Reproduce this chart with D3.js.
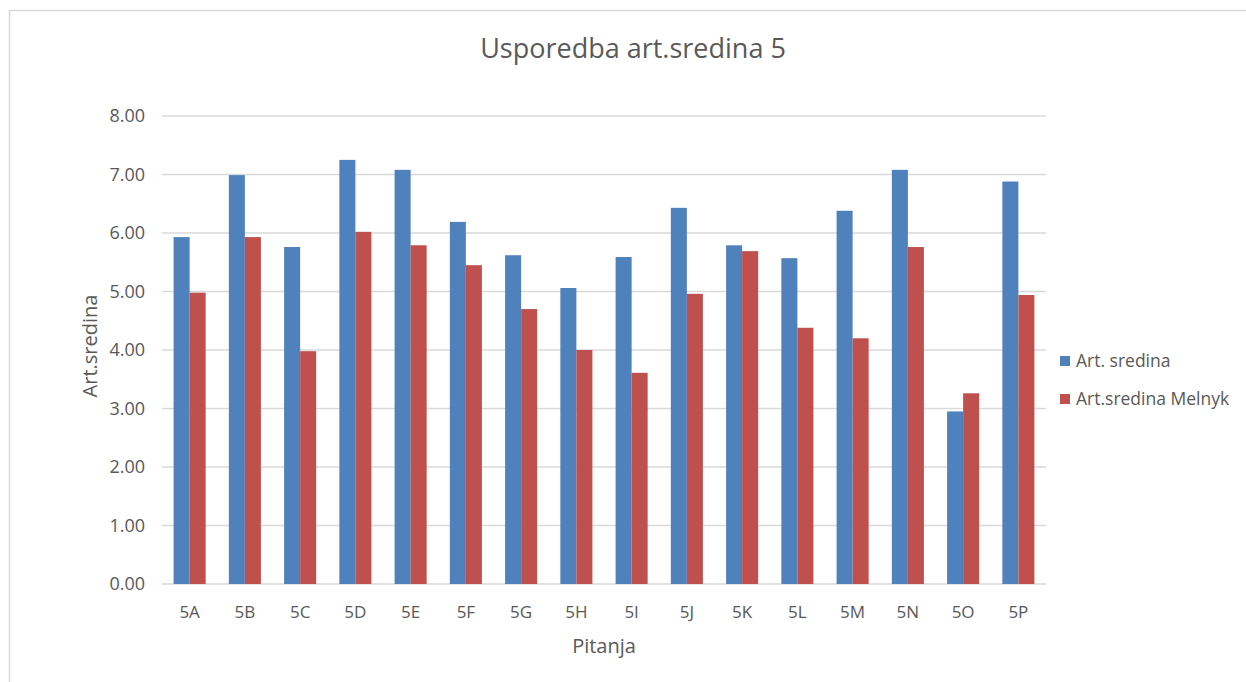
<!DOCTYPE html>
<html>
<head>
<meta charset="utf-8">
<script src="https://cdn.jsdelivr.net/npm/d3@7"></script>
<style>
    body { margin: 0; background: white; }
    svg { display: block; font-family: "Open Sans", sans-serif; }
</style>
</head>
<body>
<div id="viz"></div>
<script>

const categories = ["5A", "5B", "5C", "5D", "5E", "5F", "5G", "5H", "5I", "5J", "5K", "5L", "5M", "5N", "5O", "5P"]
const seriesNames = ["Art. sredina", "Art.sredina Melnyk"]
const artSredina = [5.93, 6.99, 5.76, 7.25, 7.08, 6.19, 5.62, 5.06, 5.59, 6.43, 5.79, 5.57, 6.38, 7.08, 2.95, 6.88]
const artSredinaMelnyk = [4.98, 5.93, 3.98, 6.02, 5.79, 5.45, 4.70, 4.00, 3.61, 4.96, 5.69, 4.38, 4.20, 5.76, 3.26, 4.94]
const yTicks = [0, 1, 2, 3, 4, 5, 6, 7, 8]

const width = 1246;
const height = 682;
const colors = ["#4f81bd", "#c0504d"]
const textColor = "#595959"

const margin = { left: 162, right: 200, top: 116, bottom: 98 }

const svg = d3.select("#viz")
    .append("svg")
    .attr("width", width)
    .attr("height", height);

// chart border
svg.append("rect")
    .attr("x", 9.5)
    .attr("y", 10.5)
    .attr("width", width + 20)
    .attr("height", height + 20)
    .attr("fill", "white")
    .attr("stroke", "#d9d9d9")
    .attr("stroke-width", 1.5);

const x = d3.scaleBand()
    .domain(categories)
    .range([margin.left, width - margin.right])
    .paddingInner(0.42)
    .paddingOuter(0.21);

const xSub = d3.scaleBand()
    .domain(seriesNames)
    .range([0, x.bandwidth()]);

const y = d3.scaleLinear()
    .domain([0, 8])
    .range([height - margin.bottom, margin.top]);

// gridlines
svg.append("g")
    .selectAll("line")
    .data(yTicks)
    .join("line")
    .attr("x1", margin.left)
    .attr("x2", width - margin.right)
    .attr("y1", d => y(d))
    .attr("y2", d => y(d))
    .attr("stroke", "#d9d9d9")
    .attr("stroke-width", 1.5);

// y tick labels
svg.append("g")
    .selectAll("text")
    .data(yTicks)
    .join("text")
    .attr("x", 145)
    .attr("y", d => y(d))
    .attr("dy", "0.35em")
    .attr("text-anchor", "end")
    .attr("fill", textColor)
    .style("font-size", "18px")
    .text(d => d3.format(".2f")(d));

const rows = categories.map((c, i) => ({ cat: c, values: [artSredina[i], artSredinaMelnyk[i]] }))

const groups = svg.append("g")
    .selectAll("g")
    .data(rows)
    .join("g")
    .attr("transform", d => `translate(${x(d.cat)},0)`);

groups.selectAll("rect")
    .data(d => d.values.map((v, i) => ({ name: seriesNames[i], value: v, i: i })))
    .join("rect")
    .attr("x", d => xSub(d.name))
    .attr("y", d => y(d.value))
    .attr("width", xSub.bandwidth())
    .attr("height", d => y(0) - y(d.value))
    .attr("fill", d => colors[d.i]);

// x labels
svg.append("g")
    .selectAll("text")
    .data(categories)
    .join("text")
    .attr("x", d => x(d) + x.bandwidth() / 2)
    .attr("y", 612)
    .attr("dy", "0.35em")
    .attr("text-anchor", "middle")
    .attr("fill", textColor)
    .style("font-size", "17px")
    .text(d => d);

// title
svg.append("text")
    .attr("x", 633)
    .attr("y", 49)
    .attr("dy", "0.35em")
    .attr("text-anchor", "middle")
    .attr("fill", textColor)
    .style("font-size", "27px")
    .text("Usporedba art.sredina 5");

// axis titles
svg.append("text")
    .attr("x", (margin.left + width - margin.right) / 2)
    .attr("y", 646)
    .attr("dy", "0.35em")
    .attr("text-anchor", "middle")
    .attr("fill", textColor)
    .style("font-size", "20px")
    .text("Pitanja");

svg.append("text")
    .attr("transform", "translate(90,346) rotate(-90)")
    .attr("dy", "0.35em")
    .attr("text-anchor", "middle")
    .attr("fill", textColor)
    .style("font-size", "20px")
    .text("Art.sredina");

// legend
const legend = svg.append("g")
    .selectAll("g")
    .data(seriesNames)
    .join("g")
    .attr("transform", (d, i) => `translate(1060,${361 + i * 38})`);

legend.append("rect")
    .attr("x", 0)
    .attr("y", -5)
    .attr("width", 10)
    .attr("height", 10)
    .attr("fill", (d, i) => colors[i]);

legend.append("text")
    .attr("x", 16)
    .attr("dy", "0.35em")
    .attr("fill", textColor)
    .style("font-size", "17.5px")
    .text(d => d);

</script>
</body>
</html>
